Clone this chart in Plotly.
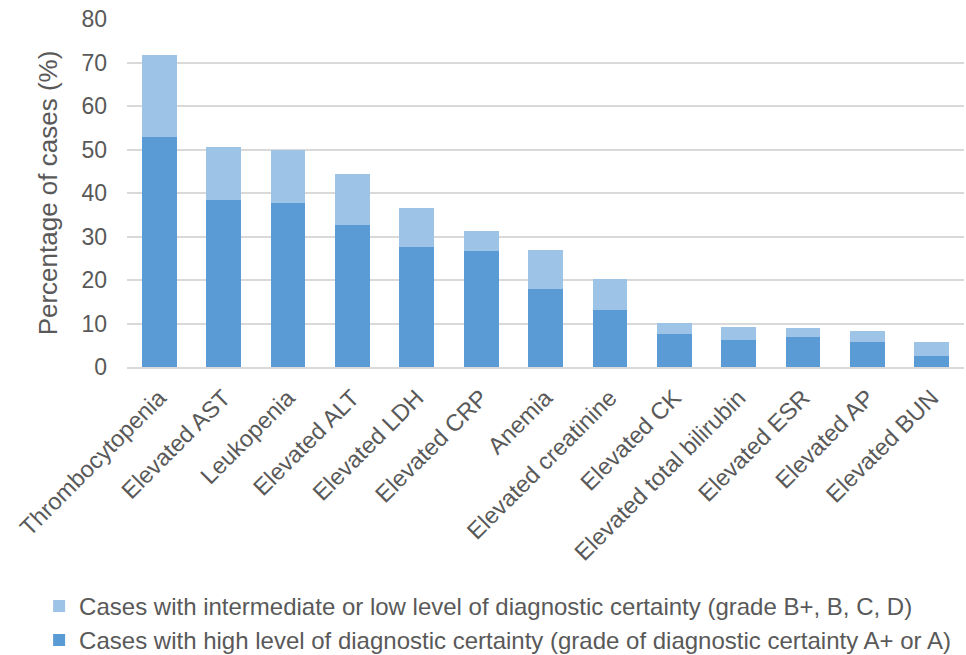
import plotly.graph_objects as go

categories = [
    "Thrombocytopenia", "Elevated AST", "Leukopenia", "Elevated ALT",
    "Elevated LDH", "Elevated CRP", "Anemia", "Elevated creatinine",
    "Elevated CK", "Elevated total bilirubin", "Elevated ESR",
    "Elevated AP", "Elevated BUN",
]
# high certainty (A+ or A)
high_certainty = [52.8, 38.3, 37.7, 32.6, 27.5, 26.6, 17.9, 13.0, 7.6, 6.2, 6.8, 5.8, 2.6]
# intermediate / low certainty (B+, B, C, D), stacked on top
totals = [71.7, 50.6, 49.9, 44.4, 36.5, 31.2, 26.9, 20.3, 10.1, 9.2, 8.9, 8.25, 5.8]
low_certainty = [round(t - h, 2) for t, h in zip(totals, high_certainty)]

y_ticks = [0, 10, 20, 30, 40, 50, 60, 70, 80]

name_high = "Cases with high level of diagnostic certainty (grade of diagnostic certainty A+ or A)"
name_low = "Cases with intermediate or low level of diagnostic certainty (grade B+, B, C, D)"

FONT = "Liberation Sans, Arial, sans-serif"
GREY = "#595959"

fig = go.Figure()
fig.add_trace(go.Bar(x=categories, y=high_certainty, name=name_high,
                     marker=dict(color="#5B9BD5", line=dict(width=0))))
fig.add_trace(go.Bar(x=categories, y=low_certainty, name=name_low,
                     marker=dict(color="#9DC3E6", line=dict(width=0))))

fig.update_layout(
    barmode="stack",
    bargap=0.46,
    width=966, height=655,
    margin=dict(l=127, r=2, t=19, b=288, autoexpand=False),
    paper_bgcolor="white", plot_bgcolor="white",
    font=dict(family=FONT, color=GREY, size=23),
    showlegend=True,
    legend=dict(
        orientation="v", traceorder="reversed",
        x=-0.105, xanchor="left", y=-0.623, yanchor="top",
        font=dict(size=24, color=GREY),
        itemwidth=30, tracegroupgap=0,
        bgcolor="rgba(0,0,0,0)",
    ),
    xaxis=dict(
        tickangle=-45, tickfont=dict(size=23.5, color=GREY),
        showline=True, linecolor="#D9D9D9", linewidth=1.5,
        ticks="outside", ticklen=6, tickcolor="rgba(0,0,0,0)",
        showgrid=False,
    ),
    yaxis=dict(
        range=[0, 80], tickvals=y_ticks,
        tickfont=dict(size=23, color=GREY),
        showgrid=True, gridcolor="#D9D9D9", gridwidth=1.5,
        zeroline=False, showline=False, ticks="",
        ticklabelstandoff=19,
        title=dict(text="Percentage of cases (%)", font=dict(size=26, color=GREY), standoff=16),
    ),
)

fig.write_html("out.html")
